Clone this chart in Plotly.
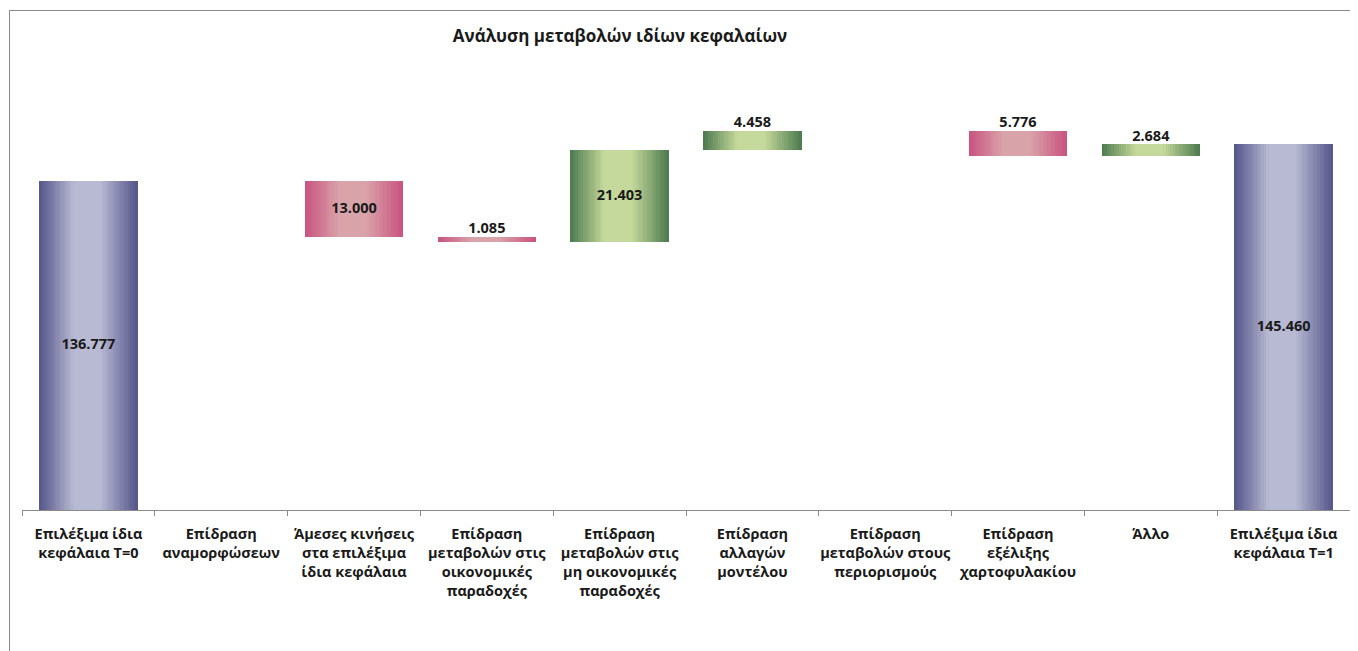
import plotly.graph_objects as go

# ---- data ----
categories = [
    "Επιλέξιμα ίδια<br>κεφάλαια T=0",
    "Επίδραση<br>αναμορφώσεων",
    "Άμεσες κινήσεις<br>στα επιλέξιμα<br>ίδια κεφάλαια",
    "Επίδραση<br>μεταβολών στις<br>οικονομικές<br>παραδοχές",
    "Επίδραση<br>μεταβολών στις<br>μη οικονομικές<br>παραδοχές",
    "Επίδραση<br>αλλαγών<br>μοντέλου",
    "Επίδραση<br>μεταβολών στους<br>περιορισμούς",
    "Επίδραση<br>εξέλιξης<br>χαρτοφυλακίου",
    "Άλλο",
    "Επιλέξιμα ίδια<br>κεφάλαια T=1",
]
measures = ["total", "relative", "relative", "relative", "relative",
            "relative", "relative", "relative", "relative", "total"]
values = [136777, 0, -13000, -1085, 21403, 4458, 0, -5776, 2684, 145460]
title_text = "Ανάλυση μεταβολών ιδίων κεφαλαίων"

# ---- styling ----
Y_MIN, Y_MAX = 60000, 160000
FONT = "Open Sans"
dark = {"total": "#54558a", "inc": "#4d7a4f", "dec": "#c8527f"}
light = {"total": "#b8b9d2", "inc": "#c6d99c", "dec": "#d9a3aa"}
stops = [(0.0, 0.0), (0.35, 1.0), (0.62, 1.0), (1.0, 0.0)]  # (pos, lightness)

def hex2rgb(h):
    h = h.lstrip("#")
    return tuple(int(h[i:i + 2], 16) for i in (0, 2, 4))

def mix(c1, c2, t):
    a, b = hex2rgb(c1), hex2rgb(c2)
    return "rgb(%d,%d,%d)" % tuple(round(a[i] + (b[i] - a[i]) * t) for i in range(3))

def lightness(p):
    for (p0, l0), (p1, l1) in zip(stops[:-1], stops[1:]):
        if p0 <= p <= p1:
            return l0 + (l1 - l0) * (p - p0) / (p1 - p0)
    return 0.0

# waterfall geometry derived from the data
bases, heights, kinds = [], [], []
running = 0
for m, v in zip(measures, values):
    if m == "total":
        bases.append(0)
        heights.append(v)
        kinds.append("total")
        running = v
    else:
        lo = min(running, running + v)
        bases.append(lo)
        heights.append(abs(v))
        kinds.append("inc" if v >= 0 else "dec")
        running += v

fig = go.Figure()
N = 40
BW = 0.74
w = BW / N
for i in range(N):
    t = lightness((i + 0.5) / N)
    cols = [mix(dark[k], light[k], t) for k in kinds]
    fig.add_trace(go.Bar(
        x=categories, y=heights, base=bases,
        offset=-BW / 2 + i * w, width=w * 1.08,
        marker=dict(color=cols, line=dict(width=0)),
        showlegend=False, hoverinfo="skip",
    ))

# labels
lab_y, lab_pos, lab_txt = [], [], []
for b, h, v, k in zip(bases, heights, values, kinds):
    top = b + h
    if v == 0:
        lab_y.append(top); lab_pos.append("top center"); lab_txt.append("")
    elif k == "total" or h >= 10000:
        lab_y.append((max(b, Y_MIN) + top) / 2); lab_pos.append("middle center")
        lab_txt.append(f"{abs(v):,}".replace(",", "."))
    else:
        lab_y.append(top); lab_pos.append("top center")
        lab_txt.append(f"{abs(v):,}".replace(",", "."))

fig.add_trace(go.Scatter(
    x=categories, y=lab_y, mode="text", text=lab_txt, textposition=lab_pos,
    textfont=dict(family=FONT, size=14.5, color="#1a1a1a", weight="bold"),
    showlegend=False, hoverinfo="skip",
))

# page body has an 8px margin: work in reference pixel coords, shifted
OFF = 8
W, H = 1358 - OFF, 651 - OFF

def X(px):
    return px - OFF

def Yp(py):
    return py - OFF

ML = X(22)
MR = W - X(1350)
MT = Yp(82)
MB = H - Yp(510)
pw, ph = W - ML - MR, H - MT - MB

def px2paperx(px):
    return (X(px) - ML) / pw

def px2papery(py):
    return (H - MB - Yp(py)) / ph

fig.update_layout(
    width=W, height=H,
    margin=dict(l=ML, r=MR, t=MT, b=MB, autoexpand=False),
    paper_bgcolor="white", plot_bgcolor="white",
    barmode="overlay", bargap=0,
    hovermode=False,
    title=dict(text="<b>" + title_text + "</b>", x=px2paperx(620), xref="paper",
               xanchor="center", y=1 - Yp(36) / H, yanchor="middle",
               font=dict(family=FONT, size=17, color="#1a1a1a")),
    xaxis=dict(showline=True, linecolor="#8a8a8a", linewidth=1,
               ticks="outside", tickson="boundaries", ticklen=5, tickcolor="#8a8a8a",
               ticklabelstandoff=11, tickangle=0, automargin=False,
               tickfont=dict(family=FONT, size=14.5, color="#1a1a1a", weight="bold"),
               showgrid=False, zeroline=False, fixedrange=True),
    yaxis=dict(visible=False, range=[Y_MIN, Y_MAX], showgrid=False, fixedrange=True,
               automargin=False),
    shapes=[
        dict(type="line", xref="paper", yref="paper",
             x0=px2paperx(9.5), x1=px2paperx(9.5), y0=px2papery(10), y1=px2papery(660),
             line=dict(color="#8c8c8c", width=1)),
        dict(type="line", xref="paper", yref="paper",
             x0=px2paperx(9), x1=px2paperx(1365), y0=px2papery(10.5), y1=px2papery(10.5),
             line=dict(color="#8c8c8c", width=1)),
    ],
)

fig.write_html("out.html")
